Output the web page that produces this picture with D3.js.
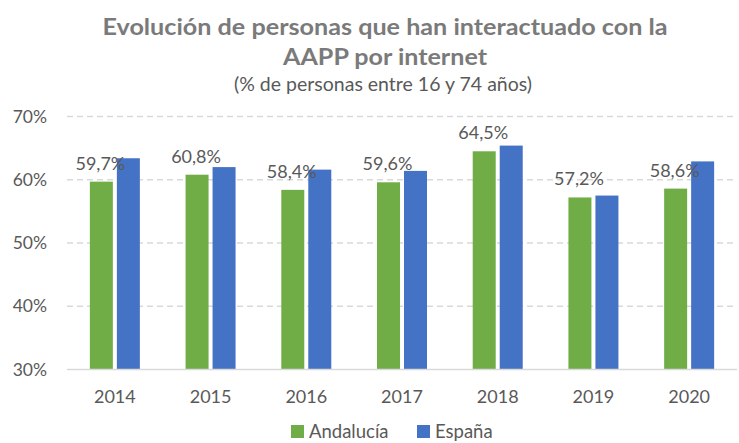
<!DOCTYPE html>
<html>
<head>
<meta charset="utf-8">
<script src="https://cdn.jsdelivr.net/npm/d3@7"></script>
<style>
  body { margin: 0; background: #fff; }
  text { font-family: Lato, "Open Sans", sans-serif; }
</style>
</head>
<body>
<div class="chart"></div>
<script>
var years = ["2014", "2015", "2016", "2017", "2018", "2019", "2020"];
var andalucia = [59.7, 60.8, 58.4, 59.6, 64.5, 57.2, 58.6];
var espana = [63.4, 62.0, 61.6, 61.4, 65.4, 57.5, 62.9];
var yTicks = [30, 40, 50, 60, 70];
var seriesNames = ["Andalucía", "España"];
var colors = ["#70AD47", "#4472C4"];

var width = 739, height = 443;
var margin = {top: 116.5, right: 2, bottom: 73.5, left: 67};

var svg = d3.select(".chart")
    .append("svg")
    .attr("width", width)
    .attr("height", height);

// titles
svg.append("text")
    .attr("x", 385).attr("y", 35)
    .attr("text-anchor", "middle")
    .attr("textLength", 565).attr("lengthAdjust", "spacingAndGlyphs")
    .style("font-size", "23.5px").style("font-weight", "bold")
    .style("fill", "#7a7a7a")
    .text("Evolución de personas que han interactuado con la");
svg.append("text")
    .attr("x", 385).attr("y", 65)
    .attr("text-anchor", "middle")
    .attr("textLength", 204).attr("lengthAdjust", "spacingAndGlyphs")
    .style("font-size", "23.5px").style("font-weight", "bold")
    .style("fill", "#7a7a7a")
    .text("AAPP por internet");
svg.append("text")
    .attr("x", 383).attr("y", 91)
    .attr("text-anchor", "middle")
    .attr("textLength", 298).attr("lengthAdjust", "spacingAndGlyphs")
    .style("font-size", "19px")
    .style("fill", "#595959")
    .text("(% de personas entre 16 y 74 años)");

var x = d3.scaleBand()
    .domain(years)
    .range([margin.left, width - margin.right]);

var y = d3.scaleLinear()
    .domain([30, 70])
    .range([height - margin.bottom, margin.top]);

// gridlines
svg.append("g")
  .selectAll("line")
    .data(yTicks.filter(function(d) { return d > 30; }))
  .enter().append("line")
    .attr("x1", margin.left).attr("x2", width - margin.right)
    .attr("y1", function(d) { return y(d); })
    .attr("y2", function(d) { return y(d); })
    .style("stroke", "#d9d9d9")
    .style("stroke-width", 1.3)
    .style("stroke-dasharray", "6,4");

// y labels
svg.append("g")
  .selectAll("text")
    .data(yTicks)
  .enter().append("text")
    .attr("x", 47).attr("y", function(d) { return y(d) + 6; })
    .attr("text-anchor", "end")
    .style("font-size", "17.5px")
    .style("fill", "#595959")
    .text(function(d) { return d + "%"; });

var barW = 23, gap = 4;
var data = years.map(function(yr, i) { return {year: yr, a: andalucia[i], e: espana[i]}; });

var groups = svg.append("g")
  .selectAll("g")
    .data(data)
  .enter().append("g")
    .attr("transform", function(d) { return "translate(" + (x(d.year) + x.bandwidth() / 2) + ",0)"; });

groups.append("rect")
    .attr("x", -barW - gap / 2)
    .attr("y", function(d) { return y(d.a); })
    .attr("width", barW)
    .attr("height", function(d) { return y(30) - y(d.a); })
    .style("fill", colors[0]);

groups.append("rect")
    .attr("x", gap / 2)
    .attr("y", function(d) { return y(d.e); })
    .attr("width", barW)
    .attr("height", function(d) { return y(30) - y(d.e); })
    .style("fill", colors[1]);

groups.append("text")
    .attr("x", -barW / 2 - gap / 2 - 1)
    .attr("y", function(d) { return y(d.a) - 12; })
    .attr("text-anchor", "middle")
    .style("font-size", "18px")
    .style("fill", "#595959")
    .text(function(d) { return d3.format(".1f")(d.a).replace(".", ",") + "%"; });

// axis line
svg.append("line")
    .attr("x1", margin.left).attr("x2", width - margin.right)
    .attr("y1", y(30)).attr("y2", y(30))
    .style("stroke", "#d9d9d9")
    .style("stroke-width", 1.5);

// x labels
svg.append("g")
  .selectAll("text")
    .data(years)
  .enter().append("text")
    .attr("x", function(d) { return x(d) + x.bandwidth() / 2; })
    .attr("y", 403)
    .attr("text-anchor", "middle")
    .style("font-size", "18px")
    .style("fill", "#595959")
    .text(function(d) { return d; });

// legend
var legendX = [291, 417];
var legend = svg.append("g")
  .selectAll("g")
    .data(seriesNames)
  .enter().append("g")
    .attr("transform", function(d, i) { return "translate(" + legendX[i] + ",425)"; });

legend.append("rect")
    .attr("width", 13).attr("height", 13)
    .style("fill", function(d, i) { return colors[i]; });

legend.append("text")
    .attr("x", 18).attr("y", 13)
    .style("font-size", "18.5px")
    .style("fill", "#595959")
    .text(function(d) { return d; });
</script>
</body>
</html>
